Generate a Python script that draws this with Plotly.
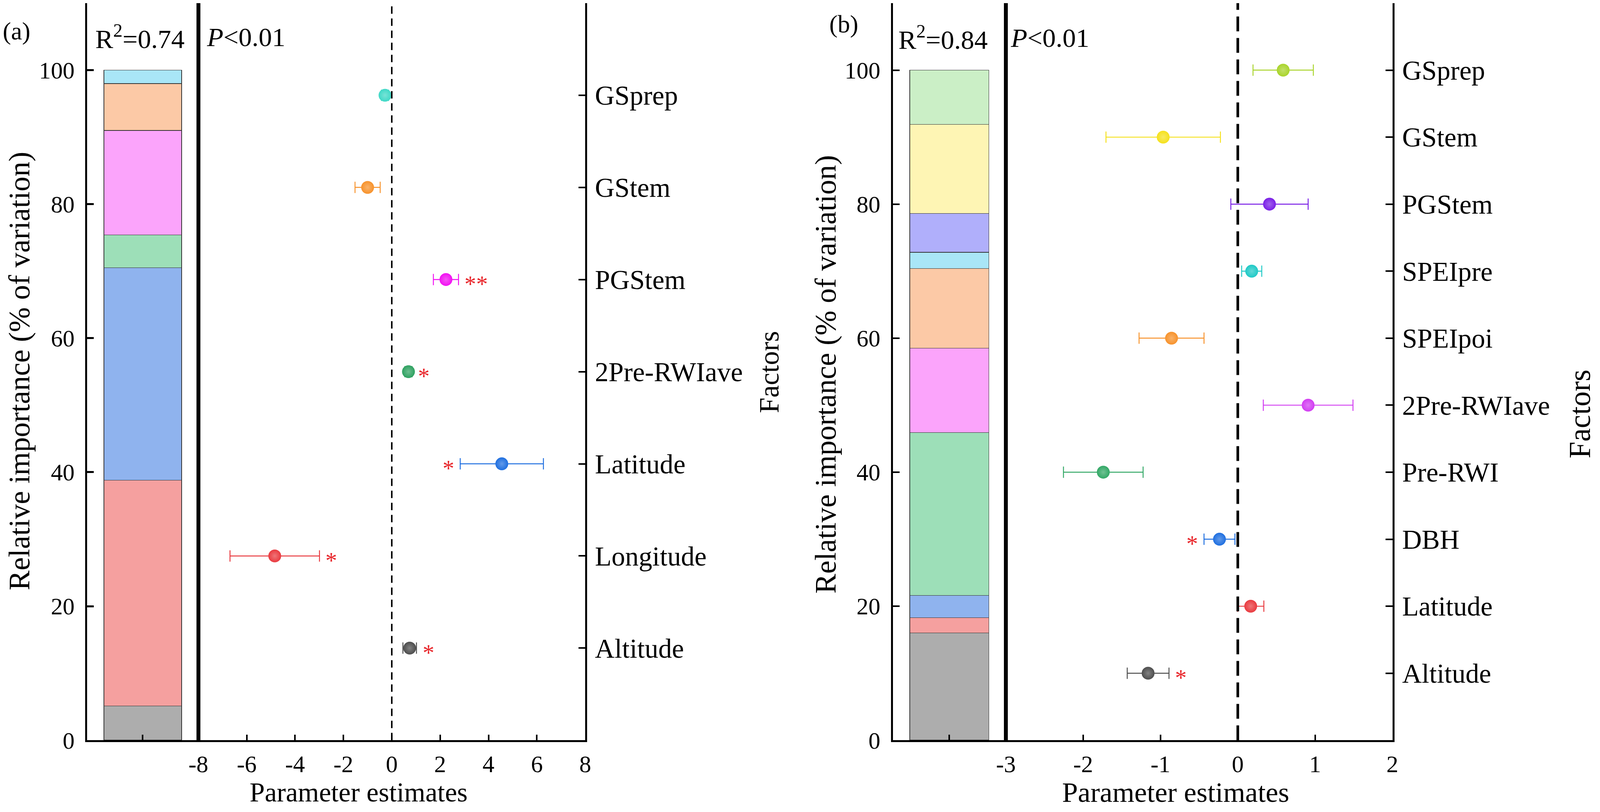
import plotly.graph_objects as go

W, H = 4317, 2079          # reference picture size
R = 1.035                  # picture px per css px, as measured on the first render
M = 8                      # default body margin of the written page (css px)
FONT = "Liberation Serif"

# ---- panel (a) data, bottom -> top ----
a_factors = ["Altitude", "Longitude", "Latitude", "2Pre-RWIave", "PGStem", "GStem", "GSprep"]
a_share = [5.1, 33.7, 31.7, 4.9, 15.6, 7.0, 2.0]
a_est = [0.74, -4.84, 4.55, 0.69, 2.24, -1.0, -0.28]
a_err = [0.28, 1.85, 1.72, 0.15, 0.52, 0.52, 0.15]
a_sig = ["*", "*", "*", "*", "**", "", ""]
a_sig_side = ["right", "right", "left", "right", "right", "right", "right"]
a_bar_colors = ["#ADADAD", "#F5A09F", "#8FB3EE", "#9DDFB8", "#FBA4FB", "#FCC9A6", "#A9E6F7"]
a_pt_colors = ["#4D4D4D", "#E93A3F", "#1F6FE0", "#2EA160", "#F210F2", "#F7922B", "#3FD8C6"]
a_xticks = [-8, -6, -4, -2, 0, 2, 4, 6, 8]
a_xlabels = ["-8", "-6", "-4", "-2", "0", "2", "4", "6", "8"]

# ---- panel (b) data, bottom -> top ----
b_factors = ["Altitude", "Latitude", "DBH", "Pre-RWI", "2Pre-RWIave", "SPEIpoi", "SPEIpre",
             "PGStem", "GStem", "GSprep"]
b_share = [16.0, 2.3, 3.3, 24.3, 12.6, 11.9, 2.4, 5.8, 13.3, 8.1]
b_est = [-1.16, 0.167, -0.237, -1.74, 0.91, -0.857, 0.18, 0.41, -0.965, 0.587]
b_err = [0.27, 0.17, 0.2, 0.515, 0.58, 0.42, 0.13, 0.5, 0.74, 0.39]
b_sig = ["*", "", "*", "", "", "", "", "", "", ""]
b_sig_side = ["right", "right", "left", "right", "right", "right", "right", "right", "right", "right"]
b_bar_colors = ["#ADADAD", "#F5A09F", "#8FB3EE", "#9DDFB8", "#FBA4FB", "#FCC9A6", "#A9E6F7",
                "#B0AFFB", "#FEF5B4", "#CBEFC6"]
b_pt_colors = ["#4D4D4D", "#E93A3F", "#1F6FE0", "#33A866", "#D23CF2", "#F7922B", "#1FC9C6",
               "#7A1FE6", "#F5E11C", "#A9D42B"]
b_xticks = [-3, -2, -1, 0, 1, 2]
b_xlabels = ["-3", "-2", "-1", "0", "1", "2"]

y_ticks = [0, 20, 40, 60, 80, 100]


# reference pixel -> paper fraction of a div that fills the viewport minus the body margin
def px_x(p):
    return min(1, max(0, (p - M * R) / (W - 2 * M * R)))


def px_y(p):
    return min(1, max(0, 1 - (p - M * R) / (H - 2 * M * R)))


def sz(p):
    # reference pixel size -> css px
    return p / R


def isz(p):
    return int(round(p / R))


def lighten(hexc, f):
    r, g, b = int(hexc[1:3], 16), int(hexc[3:5], 16), int(hexc[5:7], 16)
    r, g, b = [int(c + (255 - c) * f) for c in (r, g, b)]
    return "#%02X%02X%02X" % (r, g, b)


fig = go.Figure()


def add_panel(factors, share, est, err, sig, side, bar_colors, pt_colors,
              xb, xp, yb, yp):
    for f, s, c in zip(factors, share, bar_colors):
        fig.add_trace(go.Bar(x=[0], y=[s], width=0.7, marker_color=c,
                             marker_line=dict(color="#333333", width=1.5),
                             xaxis=xb, yaxis=yb, showlegend=False, name=f))
    for i, f in enumerate(factors):
        fig.add_trace(go.Scatter(
            x=[est[i]], y=[i + 1], mode="markers", showlegend=False, name=f,
            marker=dict(size=sz(34), color=pt_colors[i],
                        gradient=dict(type="radial", color=lighten(pt_colors[i], 0.3)),
                        line=dict(width=0)),
            error_x=dict(type="data", array=[err[i]], color=pt_colors[i],
                         thickness=sz(2.5), width=sz(15)),
            xaxis=xp, yaxis=yp))
        if sig[i]:
            if side[i] == "right":
                sx, anc, sh = est[i] + err[i], "left", sz(14)
            else:
                sx, anc, sh = est[i] - err[i], "right", -sz(14)
            fig.add_annotation(x=sx, y=i + 1, xref=xp, yref=yp, text=sig[i],
                               showarrow=False, xanchor=anc, xshift=sh, yshift=-sz(12),
                               font=dict(family=FONT, size=sz(62), color="#E8252A"))


add_panel(a_factors, a_share, a_est, a_err, a_sig, a_sig_side, a_bar_colors, a_pt_colors,
          "x", "x2", "y", "y2")
add_panel(b_factors, b_share, b_est, b_err, b_sig, b_sig_side, b_bar_colors, b_pt_colors,
          "x3", "x4", "y3", "y4")

ydom = [px_y(1895), px_y(8)]
line = dict(showline=True, linecolor="black", linewidth=sz(5), mirror=True,
            showgrid=False, zeroline=False, ticks="inside", tickcolor="black")
tickf = dict(family=FONT, size=sz(63), color="black")
labf = dict(family=FONT, size=sz(72), color="black")

fig.update_layout(
    autosize=True, margin=dict(l=0, r=0, t=0, b=0, autoexpand=False),
    paper_bgcolor="white", plot_bgcolor="white", barmode="stack",
    font=dict(family=FONT, color="black"),
    # panel (a)
    xaxis=dict(domain=[px_x(235), px_x(535)], anchor="y", range=[-0.5, 0.5],
               tickvals=[0], showticklabels=False, ticklen=sz(15), tickwidth=sz(4), **line),
    yaxis=dict(domain=ydom, anchor="x", range=[0, 110], tickvals=y_ticks,
               ticklen=sz(18), tickwidth=sz(5), tickfont=tickf,
               ticklabelstandoff=isz(16), **line),
    xaxis2=dict(domain=[px_x(535), px_x(1579)], anchor="y2", range=[-8, 8],
                tickvals=a_xticks, ticktext=a_xlabels, ticklen=sz(15), tickwidth=sz(4),
                tickfont=tickf, ticklabelstandoff=isz(4), **line),
    yaxis2=dict(domain=ydom, anchor="x2", side="right", range=[0, len(a_factors) + 1],
                tickvals=list(range(1, len(a_factors) + 1)), ticktext=a_factors,
                ticklen=sz(18), tickwidth=sz(4), tickfont=labf,
                ticklabelstandoff=isz(6), **line),
    # panel (b)
    xaxis3=dict(domain=[px_x(2409), px_x(2714)], anchor="y3", range=[-0.5, 0.5],
                tickvals=[0], showticklabels=False, ticklen=sz(15), tickwidth=sz(4), **line),
    yaxis3=dict(domain=ydom, anchor="x3", range=[0, 110], tickvals=y_ticks,
                ticklen=sz(18), tickwidth=sz(4), tickfont=tickf,
                ticklabelstandoff=isz(16), **line),
    xaxis4=dict(domain=[px_x(2714), px_x(3757)], anchor="y4", range=[-3, 2],
                tickvals=b_xticks, ticktext=b_xlabels, ticklen=sz(15), tickwidth=sz(4),
                tickfont=tickf, ticklabelstandoff=isz(4), **line),
    yaxis4=dict(domain=ydom, anchor="x4", side="right", range=[0, len(b_factors) + 1],
                tickvals=list(range(1, len(b_factors) + 1)), ticktext=b_factors,
                ticklen=sz(18), tickwidth=sz(4), tickfont=labf,
                ticklabelstandoff=isz(6), **line),
)

# dashed zero lines
fig.add_shape(type="line", x0=0, x1=0, xref="x2", y0=0, y1=1, yref="y2 domain",
              line=dict(color="black", width=sz(4), dash="%dpx,%dpx" % (sz(20), sz(13))))
fig.add_shape(type="line", x0=0, x1=0, xref="x4", y0=0, y1=1, yref="y4 domain",
              line=dict(color="black", width=sz(7), dash="%dpx,%dpx" % (sz(40), sz(18))))


def note(text, x, y, size, angle=0, xanchor="center"):
    fig.add_annotation(text=text, x=px_x(x), y=px_y(y), xref="paper", yref="paper",
                       showarrow=False, textangle=angle, xanchor=xanchor, yanchor="middle",
                       borderpad=0, font=dict(family=FONT, size=sz(size), color="black"))


note("(a)", 45, 80, 66)
note("(b)", 2277, 62, 66)
note("R<sup>2</sup>=0.74", 256, 95, 71, xanchor="left")
note("<i>P</i>&lt;0.01", 556, 95, 71, xanchor="left")
note("R<sup>2</sup>=0.84", 2423, 97, 71, xanchor="left")
note("<i>P</i>&lt;0.01", 2726, 97, 71, xanchor="left")
note("Relative importance (% of variation)", 52, 950, 79, angle=-90)
note("Relative importance (% of variation)", 2228, 958, 79, angle=-90)
note("Parameter estimates", 967, 2028, 72)
note("Parameter estimates", 3172, 2028, 75)
note("Factors", 2075, 953, 74, angle=-90)
note("Factors", 4262, 1060, 80, angle=-90)

fig.write_html("out.html", config={"responsive": True},
               default_width="calc(100vw - 16px)", default_height="calc(100vh - 16px)")
